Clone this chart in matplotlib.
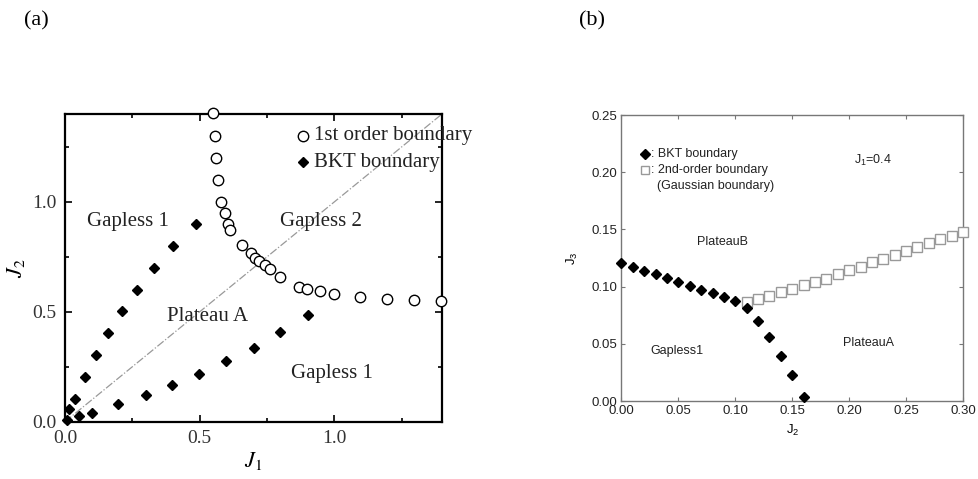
import numpy as np
import matplotlib.pyplot as plt
from matplotlib.ticker import MultipleLocator

plt.rcParams['mathtext.fontset'] = 'stix'

# (a) first-order boundary (open circles)
j1_first = [0.549, 0.556, 0.559, 0.568, 0.580, 0.593, 0.605, 0.611, 0.658, 0.691,
            0.707, 0.722, 0.741, 0.762, 0.800, 0.870, 0.898, 0.947, 0.998, 1.096,
            1.195, 1.296, 1.395]
j2_first = [1.405, 1.301, 1.201, 1.100, 1.000, 0.948, 0.900, 0.872, 0.802, 0.766,
            0.746, 0.731, 0.715, 0.693, 0.658, 0.613, 0.606, 0.594, 0.581, 0.569,
            0.560, 0.554, 0.551]

# (a) BKT boundary, upper branch and lower branch
j1_bkt_up = [0.006, 0.016, 0.036, 0.074, 0.115, 0.160, 0.212, 0.268, 0.330, 0.401, 0.485]
j2_bkt_up = [0.008, 0.056, 0.105, 0.205, 0.303, 0.403, 0.502, 0.601, 0.700, 0.799, 0.900]
j1_bkt_lo = [0.051, 0.101, 0.198, 0.299, 0.399, 0.498, 0.599, 0.700, 0.800, 0.901]
j2_bkt_lo = [0.026, 0.041, 0.079, 0.122, 0.169, 0.218, 0.274, 0.335, 0.406, 0.487]

# (b) J1 = 0.4
j2_bkt = [0.00, 0.01, 0.02, 0.03, 0.04, 0.05, 0.06, 0.07, 0.08, 0.09, 0.10,
          0.11, 0.12, 0.13, 0.14, 0.15, 0.16]
j3_bkt = [0.1204, 0.1175, 0.114, 0.1108, 0.1076, 0.1041, 0.1009, 0.0974, 0.0942,
          0.0913, 0.0872, 0.0816, 0.070, 0.0557, 0.0397, 0.0224, 0.0035]
j2_gauss = [0.11, 0.12, 0.13, 0.14, 0.15, 0.16, 0.17, 0.18, 0.19, 0.20,
            0.21, 0.22, 0.23, 0.24, 0.25, 0.26, 0.27, 0.28, 0.29, 0.30]
j3_gauss = [0.0866, 0.0892, 0.0921, 0.095, 0.0983, 0.1015, 0.104, 0.107, 0.111, 0.1143,
            0.1175, 0.1213, 0.1245, 0.1274, 0.1312, 0.1344, 0.1379, 0.1414, 0.1446, 0.148]

fig = plt.figure(figsize=(9.79, 4.79), dpi=100)
serif = 'Liberation Serif'
sans = 'Liberation Sans'

# ---- panel (a)
ax1 = fig.add_axes([0.0664, 0.1196, 0.3851, 0.6424])
ax1.plot([0, 1.4], [0, 1.4], color='#999999', lw=0.9, ls='-.')
ax1.plot(j1_first, j2_first, 'o', mfc='white', mec='black', mew=1.0, ms=7.5,
         clip_on=False, zorder=3)
ax1.plot(j1_bkt_up, j2_bkt_up, 'D', color='black', ms=5.5, clip_on=False, zorder=3)
ax1.plot(j1_bkt_lo, j2_bkt_lo, 'D', color='black', ms=5.5, clip_on=False, zorder=3)
ax1.set_xlim(0, 1.4)
ax1.set_ylim(0, 1.4)
ax1.xaxis.set_major_locator(MultipleLocator(0.5))
ax1.yaxis.set_major_locator(MultipleLocator(0.5))
ax1.xaxis.set_minor_locator(MultipleLocator(0.25))
ax1.yaxis.set_minor_locator(MultipleLocator(0.25))
ax1.tick_params(which='both', direction='in', top=True, right=True, width=1.2)
ax1.tick_params(which='major', length=5, pad=6)
ax1.tick_params(which='minor', length=3)
for lab in ax1.get_xticklabels() + ax1.get_yticklabels():
    lab.set_fontfamily(serif)
    lab.set_fontsize(14)
    lab.set_color('#333333')
for s in ax1.spines.values():
    s.set_linewidth(1.6)
ax1.set_xlabel('$J_1$', fontsize=16, labelpad=2)
ax1.set_ylabel('$J_2$', fontsize=16, labelpad=4)

tkw = dict(fontfamily=serif, fontsize=15, color='#222222')
ax1.text(0.08, 0.91, 'Gapless 1', va='center', **tkw)
ax1.text(0.80, 0.91, 'Gapless 2', va='center', **tkw)
ax1.text(0.38, 0.48, 'Plateau A', va='center', **tkw)
ax1.text(0.84, 0.22, 'Gapless 1', va='center', **tkw)
ax1.plot([0.885], [1.30], 'o', mfc='white', mec='black', mew=1.0, ms=7.5)
ax1.plot([0.885], [1.18], 'D', color='black', ms=5.5)
ax1.text(0.925, 1.30, '1st order boundary', va='center', clip_on=False, **tkw)
ax1.text(0.925, 1.18, 'BKT boundary', va='center', clip_on=False, **tkw)

# ---- panel (b)
ax2 = fig.add_axes([0.6348, 0.1628, 0.3489, 0.5971])
ax2.plot(j2_gauss, j3_gauss, 's', mfc='white', mec='#999999', mew=1.0, ms=6.5,
         clip_on=False, zorder=3)
ax2.plot(j2_bkt, j3_bkt, 'D', color='black', ms=5, clip_on=False, zorder=4)
ax2.set_xlim(0, 0.30)
ax2.set_ylim(0, 0.25)
ax2.xaxis.set_major_locator(MultipleLocator(0.05))
ax2.yaxis.set_major_locator(MultipleLocator(0.05))
ax2.xaxis.set_major_formatter('{x:.2f}')
ax2.yaxis.set_major_formatter('{x:.2f}')
ax2.tick_params(direction='in', top=True, right=True, length=3, width=0.8,
                color='#777777', labelsize=9.5, pad=3)
for lab in ax2.get_xticklabels() + ax2.get_yticklabels():
    lab.set_fontfamily(sans)
    lab.set_color('#222222')
for s in ax2.spines.values():
    s.set_linewidth(1.0)
    s.set_color('#777777')
ax2.set_xlabel(r'$\mathregular{J_2}$', fontfamily=sans, fontsize=9.5, labelpad=4)
ax2.set_ylabel(r'$\mathregular{J_3}$', fontfamily=sans, fontsize=9.5, labelpad=8)

skw = dict(fontfamily=sans, fontsize=9, color='#222222', va='center')
ax2.text(0.0888, 0.1388, 'PlateauB', ha='center', **skw)
ax2.text(0.049, 0.0437, 'Gapless1', ha='center', **skw)
ax2.text(0.217, 0.0504, 'PlateauA', ha='center', **skw)
ax2.text(0.204, 0.2105, r'$\mathregular{J_1}$=0.4', **skw)
ax2.plot([0.021], [0.2157], 'D', color='black', ms=5)
ax2.plot([0.021], [0.2015], 's', mfc='white', mec='#999999', mew=1.0, ms=6)
ax2.text(0.026, 0.2157, ': BKT boundary', **skw)
ax2.text(0.026, 0.2015, ': 2nd-order boundary', **skw)
ax2.text(0.031, 0.1878, '(Gaussian boundary)', **skw)

fig.text(36 / 979, 1 - 21 / 479, '(a)', fontfamily=serif, fontsize=16,
         ha='center', va='center')
fig.text(592 / 979, 1 - 21 / 479, '(b)', fontfamily=serif, fontsize=16,
         ha='center', va='center')

plt.savefig('out.png', dpi=100)
